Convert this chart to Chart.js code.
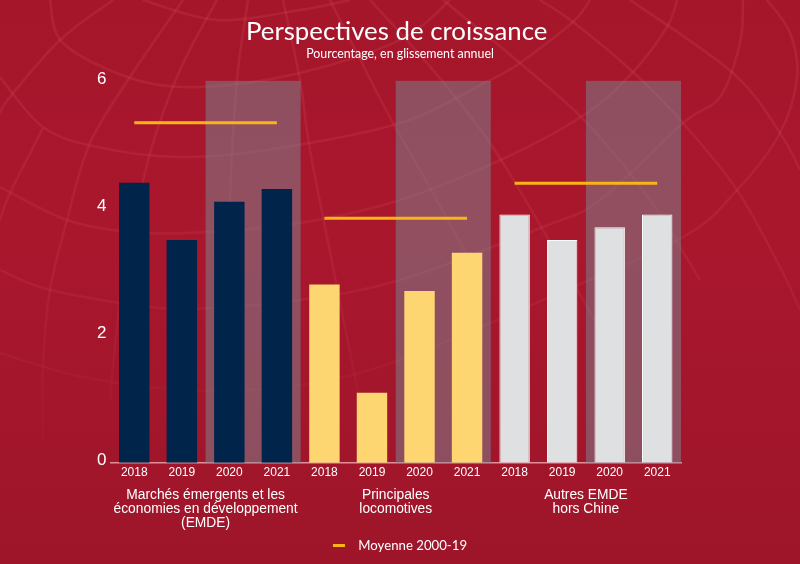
<!DOCTYPE html>
<html lang="fr">
<head>
<meta charset="utf-8">
<title>Perspectives de croissance</title>
<script src="https://cdn.jsdelivr.net/npm/chart.js@4"></script>
<style>
  html, body { margin: 0; padding: 0; background: #a3162b; }
  canvas { display: block; }
</style>
</head>
<body>
<canvas id="growthChart" width="800" height="564"></canvas>
<script>
// ======= DATA =======
const years = ["2018", "2019", "2020", "2021", "2018", "2019", "2020", "2021", "2018", "2019", "2020", "2021"];
const growth = [4.4, 3.5, 4.1, 4.3, 2.8, 1.1, 2.7, 3.3, 3.9, 3.5, 3.7, 3.9];
const avgEmde = [5.34, 5.34, 5.34, 5.34, null, null, null, null, null, null, null, null];
const avgMajor = [null, null, null, null, 3.84, 3.84, 3.84, 3.84, null, null, null, null];
const avgOther = [null, null, null, null, null, null, null, null, 4.39, 4.39, 4.39, 4.39];
const forecastSlots = [[2, 3], [6, 7], [10, 11]];
const yTicks = [0, 2, 4, 6];
const groupLabels = [
  ["Marchés émergents et les", "économies en développement", "(EMDE)"],
  ["Principales", "locomotives"],
  ["Autres EMDE", "hors Chine"],
];

// bar colours per group
const navy = "#00244a", yellow = "#fdd672", grey = "#dfe0e2";
const barColors = [navy, navy, navy, navy, yellow, yellow, yellow, yellow, grey, grey, grey, grey];

// globe lines of the backdrop (decoration only)
const globeLines = [
  [[143, 0], [217, 20], [300, 10], [350, 0]],
  [[50, 0], [63, 43], [130, 78], [200, 87], [300, 73], [400, 40], [450, 0]],
  [[0, 77], [43, 127], [97, 147], [180, 157], [267, 150], [400, 123], [490, 80], [520, 63], [573, 22], [590, 0]],
  [[0, 187], [67, 220], [133, 232], [207, 232], [300, 223], [400, 200], [507, 157], [587, 113], [633, 72], [667, 27], [677, 0]],
  [[0, 270], [50, 290], [150, 307], [207, 308], [300, 300], [400, 280], [543, 227], [600, 200], [683, 123], [720, 97], [740, 43], [743, 0]],
  [[0, 353], [83, 377], [190, 390], [300, 385], [400, 360], [543, 300], [683, 237], [737, 190], [780, 133], [797, 77], [790, 33], [767, 0]],
  [[113, 0], [60, 40], [10, 97], [0, 113]],
  [[183, 0], [130, 77], [90, 143], [67, 220], [50, 290], [43, 367], [43, 450]],
  [[43, 128], [10, 193], [0, 220]],
  [[217, 0], [180, 70], [150, 153], [133, 232], [120, 300], [110, 400]],
  [[248, 0], [237, 80], [230, 200], [230, 300], [230, 450]],
  [[283, 0], [300, 80], [310, 150], [333, 267], [353, 367], [370, 450]],
  [[330, 0], [367, 73], [393, 123], [420, 170], [470, 260]],
  [[370, 0], [433, 70], [490, 143], [543, 230], [600, 330]],
  [[443, 0], [520, 63], [587, 123], [650, 200], [700, 280]],
  [[540, 0], [573, 22], [633, 72], [683, 123], [737, 190], [780, 267], [800, 310]],
  [[630, 0], [733, 73], [780, 133], [800, 170]],
];

// ======= PLUGINS =======
const backdrop = {
  id: "backdrop",
  beforeDraw(chart) {
    const { ctx, width, height } = chart;
    const bg = ctx.createLinearGradient(0, 0, 0, height);
    bg.addColorStop(0, "#a5162b");
    bg.addColorStop(0.4, "#a9172d");
    bg.addColorStop(1, "#9e152a");
    ctx.save();
    ctx.fillStyle = bg;
    ctx.fillRect(0, 0, width, height);

    const fade = ctx.createLinearGradient(0, 0, 0, 470);
    fade.addColorStop(0, "rgba(205, 70, 85, 0.26)");
    fade.addColorStop(0.6, "rgba(205, 70, 85, 0.2)");
    fade.addColorStop(1, "rgba(205, 70, 85, 0)");
    ctx.strokeStyle = fade;
    ctx.lineWidth = 2.5;
    globeLines.forEach(pts => {
      ctx.beginPath();
      ctx.moveTo(pts[0][0], pts[0][1]);
      for (let i = 0; i < pts.length - 1; i++) {
        const p0 = pts[i - 1] || pts[i], p1 = pts[i], p2 = pts[i + 1], p3 = pts[i + 2] || p2;
        ctx.bezierCurveTo(
          p1[0] + (p2[0] - p0[0]) / 6, p1[1] + (p2[1] - p0[1]) / 6,
          p2[0] - (p3[0] - p1[0]) / 6, p2[1] - (p3[1] - p1[1]) / 6,
          p2[0], p2[1]
        );
      }
      ctx.stroke();
    });
    ctx.restore();
  },
};

// grey forecast bands behind the bars, one rect per group so no seam shows
const forecastBands = {
  id: "forecastBands",
  beforeDatasetsDraw(chart) {
    const { ctx, chartArea, scales: { x } } = chart;
    const half = (x.getPixelForValue(1) - x.getPixelForValue(0)) / 2;
    ctx.save();
    ctx.fillStyle = "rgba(122, 136, 148, 0.5)";
    forecastSlots.forEach(([from, to]) => {
      const left = x.getPixelForValue(from) - half;
      const right = x.getPixelForValue(to) + half;
      ctx.fillRect(left, chartArea.top, right - left, chartArea.height);
    });
    ctx.restore();
  },
};

// group names under the year ticks, centred on each group of four
const groupNames = {
  id: "groupNames",
  afterDraw(chart) {
    const { ctx, scales: { x } } = chart;
    ctx.save();
    ctx.fillStyle = "#ffffff";
    ctx.font = "13.8px 'Liberation Sans'";
    ctx.textAlign = "center";
    ctx.textBaseline = "middle";
    groupLabels.forEach((lines, g) => {
      const mid = (x.getPixelForValue(g * 4 + 1) + x.getPixelForValue(g * 4 + 2)) / 2;
      lines.forEach((line, i) => ctx.fillText(line, mid, x.top + 32 + i * 14));
    });
    ctx.restore();
  },
};

// ======= CHART =======
const lineStyle = {
  type: "line",
  label: "  Moyenne 2000-19",
  borderColor: "#fbb416",
  backgroundColor: "#fbb416",
  borderWidth: 3,
  borderCapStyle: "butt",
  pointRadius: 0,
  pointStyle: "line",
  spanGaps: false,
  order: 0,
};

new Chart(document.getElementById("growthChart"), {
  data: {
    labels: years,
    datasets: [
      { data: avgEmde, ...lineStyle },
      { data: avgMajor, ...lineStyle },
      { data: avgOther, ...lineStyle },
      {
        type: "bar",
        label: "Croissance",
        data: growth,
        backgroundColor: barColors,
        borderColor: "#ffffff",
        borderWidth: growth.map((v, i) => (i >= 8 ? 1 : 0)),
        barPercentage: 0.64,
        categoryPercentage: 1,
        order: 1,
      },
    ],
  },
  options: {
    responsive: false,
    animation: false,
    layout: { padding: { bottom: 2 } },
    scales: {
      x: {
        grid: { display: false, drawTicks: false },
        border: { color: "#e08f99", width: 1.5 },
        ticks: { color: "#ffffff", font: { family: "'Liberation Sans'", size: 12 }, padding: 3, maxRotation: 0, autoSkip: false },
        afterFit: scale => { scale.height = 66; },
      },
      y: {
        min: 0,
        max: 6,
        afterBuildTicks: scale => { scale.ticks = yTicks.map(value => ({ value })); },
        grid: { display: false, drawTicks: false },
        border: { display: false },
        ticks: { color: "#ffffff", font: { family: "'Liberation Sans'", size: 17 }, padding: 4, labelOffset: -2 },
        afterFit: scale => { scale.width = 110.5; },
      },
      // empty axis, keeps the right margin without moving title and legend
      rightMargin: {
        position: "right",
        grid: { display: false, drawTicks: false },
        border: { display: false },
        ticks: { display: false },
        afterFit: scale => { scale.width = 119; },
      },
    },
    plugins: {
      title: {
        display: true,
        text: "Perspectives de croissance ",
        color: "#ffffff",
        font: { family: "Lato", size: 25.8, weight: "normal" },
        padding: { top: 16, bottom: 0 },
      },
      subtitle: {
        display: true,
        text: "Pourcentage, en glissement annuel",
        color: "#ffffff",
        font: { family: "Lato", size: 12.4, weight: "normal" },
        padding: { top: 0, bottom: 19 },
      },
      legend: {
        position: "bottom",
        labels: {
          color: "#ffffff",
          font: { family: "Lato", size: 13.2 },
          usePointStyle: true,
          pointStyleWidth: 12,
          padding: 10,
          filter: item => item.datasetIndex === 0,
        },
      },
      tooltip: { enabled: false },
    },
  },
  plugins: [backdrop, forecastBands, groupNames],
});
</script>
</body>
</html>
